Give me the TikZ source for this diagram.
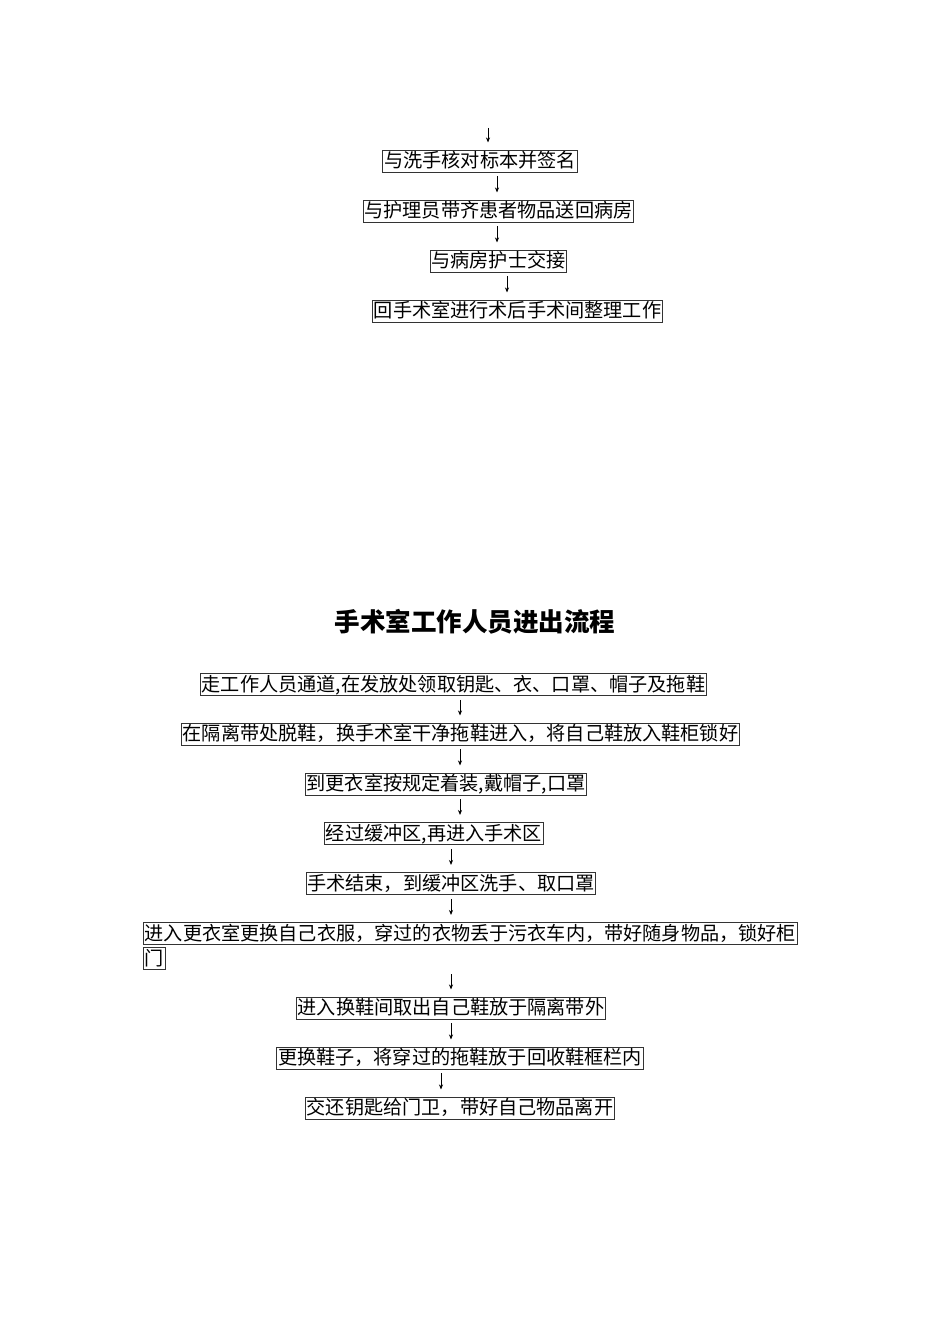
\documentclass[tikz,border=0pt]{standalone}
\usepackage{fontspec}
\usepackage{tikz}
\usetikzlibrary{arrows.meta}
\setmainfont{Noto Sans CJK SC}
\newfontfamily\cjk{Noto Sans CJK SC}

\begin{document}
\begin{tikzpicture}[
		x=0.6265pt, y=-0.6265pt,
		box/.style={draw=black!80, line width=0.6pt, font=\cjk\fontsize{12pt}{14pt}\selectfont,
			inner xsep=0.8pt, inner ysep=0.9pt, text height=10.2pt, text depth=1.8pt},
		arr/.style={-{Stealth[length=3.2pt,width=2.6pt]}, line width=0.5pt,
			shorten <=2.5pt, shorten >=4.4pt}
	]
	\useasboundingbox (0,0) rectangle (950,1344);

	% return part
	\coordinate (top) at (488,128);
	\node[box] (t1) at (480,161) {与洗手核对标本并签名};
	\node[box] (t2) at (498.5,211) {与护理员带齐患者物品送回病房};
	\node[box] (t3) at (498.5,261) {与病房护士交接};
	\node[box] (t4) at (517.5,311) {回手术室进行术后手术间整理工作};

	\draw[arr, shorten <=0pt] (top) -- (t1.north -| 488,0);
	\foreach \from/\to/\x in {t1/t2/497, t2/t3/497, t3/t4/507}{
		\draw[arr] (\from.south -| \x,0) -- (\to.north -| \x,0);
	}

	% title
	\node[font=\cjk\bfseries\fontsize{16pt}{19pt}\selectfont] (title)
		at (475,622) {手术室工作人员进出流程};

	% staff in and out
	\node[box] (b1) at (453.5,684.5) {走工作人员通道,在发放处领取钥匙、衣、口罩、帽子及拖鞋};
	\node[box] (b2) at (460.5,734) {在隔离带处脱鞋，换手术室干净拖鞋进入，将自己鞋放入鞋柜锁好};
	\node[box] (b3) at (446,784) {到更衣室按规定着装,戴帽子,口罩};
	\node[box] (b4) at (434,833.5) {经过缓冲区,再进入手术区};
	\node[box] (b5) at (451,883.5) {手术结束，到缓冲区洗手、取口罩};
	\node[box, anchor=west] (b6) at (143,933.5) {进入更衣室更换自己衣服，穿过的衣物丢于污衣车内，带好随身物品，锁好柜};
	\node[box, anchor=north west] (b6b) at ([yshift=-1.5pt]b6.south west) {门};
	\node[box] (b7) at (451,1008) {进入换鞋间取出自己鞋放于隔离带外};
	\node[box] (b8) at (460,1058) {更换鞋子，将穿过的拖鞋放于回收鞋框栏内};
	\node[box] (b9) at (460,1108) {交还钥匙给门卫，带好自己物品离开};

	\foreach \from/\to/\x in {b1/b2/460, b2/b3/460, b3/b4/460, b4/b5/451, b6b/b7/451, b7/b8/451, b8/b9/441}{
		\draw[arr] (\from.south -| \x,0) -- (\to.north -| \x,0);
	}
	\draw[arr] (b5.south -| 451,0) -- (b6.north -| 451,0);
\end{tikzpicture}
\end{document}
